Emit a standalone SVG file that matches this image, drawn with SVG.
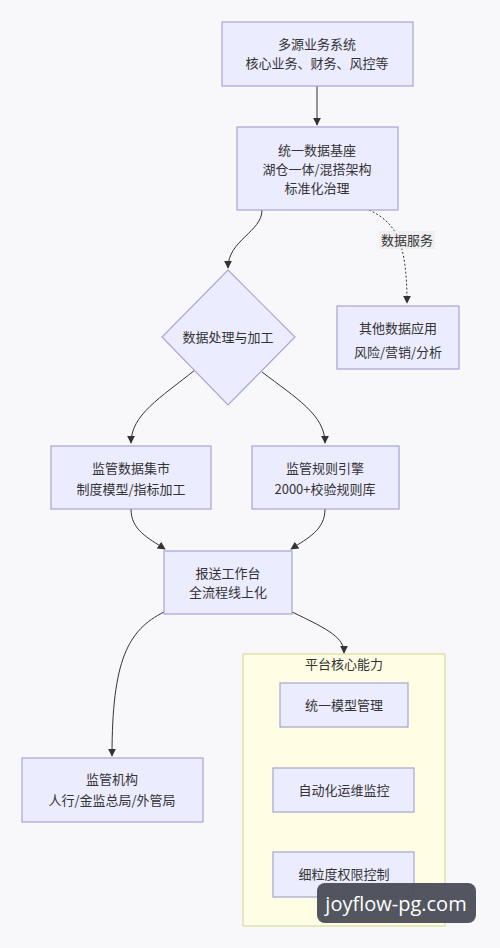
<svg xmlns="http://www.w3.org/2000/svg" width="500" height="948" viewBox="0 0 500 948">
<style>
text{font-family:"Noto Sans CJK SC","Liberation Sans",sans-serif;font-size:13px;fill:#333;text-anchor:middle;}
.node{fill:#ECECFF;stroke:#a9a4d4;stroke-width:1.2;}
.edge{fill:none;stroke:#333;stroke-width:1;}
.dash{stroke-dasharray:2,2;}
</style>
<defs>
<marker id="arr" viewBox="0 0 10 10" refX="9" refY="5" markerWidth="8" markerHeight="8" orient="auto" markerUnits="userSpaceOnUse">
<path d="M0,0 L10,5 L0,10 z" fill="#333"/>
</marker>
</defs>
<rect width="500" height="948" fill="#f8f8fa"/>
<g id="cluster">
<rect x="243" y="654" width="202" height="272" fill="#fffde3" stroke="#d9dca0" stroke-width="1.2"/>
<text x="344" y="669">平台核心能力</text>
</g>
<g id="connectors">
<path class="edge" d="M317,86 L317,125" marker-end="url(#arr)"/>
<path class="edge" d="M262,210 C262,232 228,240 228,268" marker-end="url(#arr)"/>
<path class="edge dash" d="M369,210 C395,222 407,240 407,303" marker-end="url(#arr)"/>
<path class="edge" d="M195,370 C160,398 131,415 131,443" marker-end="url(#arr)"/>
<path class="edge" d="M262,372 C296,398 325,415 325,443" marker-end="url(#arr)"/>
<path class="edge" d="M131,509 C131,530 148,538 165,549" marker-end="url(#arr)"/>
<path class="edge" d="M325,509 C325,530 308,538 291,549" marker-end="url(#arr)"/>
<path class="edge" d="M164,612 C128,630 112,660 112,756" marker-end="url(#arr)"/>
<path class="edge" d="M292,612 C330,630 344,638 344,653" marker-end="url(#arr)"/>
<rect x="379" y="231" width="56" height="18" fill="#ececec" opacity="0.8"/>
<text x="407" y="245">数据服务</text>
</g>
<g id="n1">
<rect class="node" x="222" y="22" width="191" height="64"/>
<text x="317" y="49">多源业务系统</text>
<text x="317" y="68">核心业务、财务、风控等</text>
</g>
<g id="n2">
<rect class="node" x="237" y="127" width="161" height="83"/>
<text x="317" y="155">统一数据基座</text>
<text x="317" y="174">湖仓一体/混搭架构</text>
<text x="317" y="193">标准化治理</text>
</g>
<g id="n3">
<polygon class="node" points="228,270 295,337 228,405 162,337"/>
<text x="228" y="342">数据处理与加工</text>
</g>
<g id="n4">
<rect class="node" x="337" y="306" width="122" height="63"/>
<text x="398" y="333">其他数据应用</text>
<text x="398" y="357">风险/营销/分析</text>
</g>
<g id="n5">
<rect class="node" x="51" y="446" width="160" height="63"/>
<text x="131" y="473">监管数据集市</text>
<text x="131" y="494">制度模型/指标加工</text>
</g>
<g id="n6">
<rect class="node" x="252" y="446" width="147" height="63"/>
<text x="325" y="473">监管规则引擎</text>
<text x="325" y="494">2000+校验规则库</text>
</g>
<g id="n7">
<rect class="node" x="164" y="551" width="128" height="63"/>
<text x="228" y="578">报送工作台</text>
<text x="228" y="597">全流程线上化</text>
</g>
<g id="n8">
<rect class="node" x="22" y="758" width="181" height="64"/>
<text x="112" y="784">监管机构</text>
<text x="112" y="805">人行/金监总局/外管局</text>
</g>
<g id="n9">
<rect class="node" x="280" y="683" width="128" height="44"/>
<text x="344" y="710">统一模型管理</text>
</g>
<g id="n10">
<rect class="node" x="273" y="768" width="141" height="44"/>
<text x="344" y="795">自动化运维监控</text>
</g>
<g id="n11">
<rect class="node" x="273" y="852" width="141" height="45"/>
<text x="344" y="879">细粒度权限控制</text>
</g>
<g id="watermark">
<rect x="317" y="883" width="159" height="40" rx="8" fill="#4a4d57" opacity="0.95"/>
<text x="396" y="911" style="font-family:'Open Sans','Noto Sans',sans-serif;font-size:20px;fill:#fff">joyflow-pg.com</text>
</g>
</svg>
